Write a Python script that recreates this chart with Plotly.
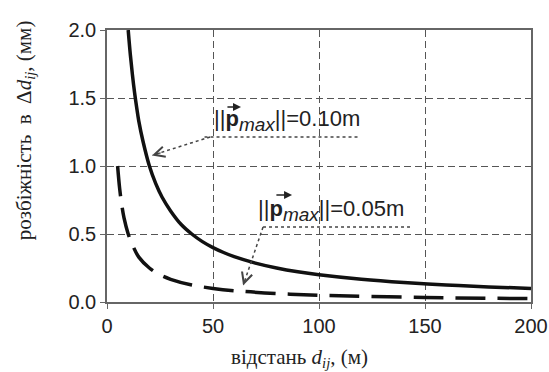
import plotly.graph_objects as go

# data
x_solid = [10, 11, 12, 13, 14, 15, 17, 20, 23, 26, 30, 35, 40, 45, 50, 55, 60, 70, 80, 90, 100, 120, 140, 160, 180, 200]
y_solid = [2.0, 1.82, 1.67, 1.54, 1.43, 1.33, 1.18, 1.0, 0.87, 0.77, 0.67, 0.57, 0.5, 0.444, 0.4, 0.364, 0.333, 0.286, 0.25, 0.222, 0.2, 0.167, 0.143, 0.125, 0.111, 0.1]
x_dash = [5, 6, 7, 8, 10, 12, 15, 20, 25, 30, 40, 50, 60, 80, 100, 150, 200]
y_dash = [1.0, 0.83, 0.71, 0.62, 0.5, 0.42, 0.33, 0.25, 0.2, 0.167, 0.125, 0.1, 0.083, 0.062, 0.05, 0.033, 0.025]
x_ticks = [0, 50, 100, 150, 200]
y_ticks = [0.0, 0.5, 1.0, 1.5, 2.0]
y_ticklabels = ["0.0", "0.5", "1.0", "1.5", "2.0"]
label_1 = "||<b>p</b><sub><i><span style='font-size:19px'>max</span></i></sub>||=0.10m"
label_2 = "||<b>p</b><sub><i><span style='font-size:19px'>max</span></i></sub>||=0.05m"

fig = go.Figure()
fig.add_trace(go.Scatter(x=x_solid, y=y_solid, mode="lines", line=dict(color="#111", width=3.5, shape="spline"), showlegend=False))
fig.add_trace(go.Scatter(x=x_dash, y=y_dash, mode="lines", line=dict(color="#111", width=3.5, shape="spline", dash="30px,12px"), showlegend=False))

dotc = "#444"
# connector 1
fig.add_shape(type="line", x0=46, y0=1.213, x1=119, y1=1.213, line=dict(color=dotc, width=1.5, dash="dot"))
fig.add_shape(type="line", x0=48.6, y0=1.213, x1=21.5, y1=1.08, line=dict(color=dotc, width=1.5, dash="dot"))
# connector 2
fig.add_shape(type="line", x0=73.6, y0=0.551, x1=144, y1=0.551, line=dict(color=dotc, width=1.5, dash="dot"))
fig.add_shape(type="line", x0=73.6, y0=0.551, x1=64.4, y1=0.13, line=dict(color=dotc, width=1.5, dash="dot"))

fig.add_annotation(x=21.2, y=1.078, ax=26, ay=1.1, axref="x", ayref="y", text="", showarrow=True,
                   arrowhead=5, arrowsize=1.6, arrowwidth=1.3, arrowcolor=dotc)
fig.add_annotation(x=64.2, y=0.122, ax=65.2, ay=0.17, axref="x", ayref="y", text="", showarrow=True,
                   arrowhead=5, arrowsize=1.6, arrowwidth=1.3, arrowcolor=dotc)

fig.add_annotation(x=49.5, y=1.331, text=label_1, showarrow=False, xanchor="left", yanchor="middle",
                   font=dict(family="Liberation Sans", size=22, color="#222"))
fig.add_annotation(x=70.3, y=0.676, text=label_2, showarrow=False, xanchor="left", yanchor="middle",
                   font=dict(family="Liberation Sans", size=22, color="#222"))
# vector arrows over p
fig.add_annotation(x=63.2, y=1.434, ax=56.1, ay=1.434, axref="x", ayref="y", text="", showarrow=True,
                   arrowhead=2, arrowsize=1, arrowwidth=1.6, arrowcolor="#222")
fig.add_annotation(x=87.3, y=0.787, ax=79.2, ay=0.787, axref="x", ayref="y", text="", showarrow=True,
                   arrowhead=2, arrowsize=1, arrowwidth=1.6, arrowcolor="#222")

# axis titles
fig.add_annotation(xref="paper", yref="paper", x=-0.193, y=0.632, textangle=-90, showarrow=False,
                   xanchor="center", yanchor="middle",
                   text="розбіжність  в  Δ<i>d</i><sub><i>ij</i></sub>, (мм)",
                   font=dict(family="Liberation Serif", size=21, color="#222"))
fig.add_annotation(xref="paper", yref="paper", x=0.455, y=-0.206, showarrow=False,
                   xanchor="center", yanchor="middle",
                   text="відстань <i>d</i><sub><i>ij</i></sub>, (м)",
                   font=dict(family="Liberation Serif", size=21, color="#222"))

axis_common = dict(showline=True, mirror=True, linecolor="#666", linewidth=1.5,
                   ticks="outside", ticklen=5, tickcolor="#666", tickwidth=1.2,
                   showgrid=True, gridcolor="#555", gridwidth=1.2, griddash="7px,4px",
                   zeroline=False, ticklabeloverflow="allow", automargin=False,
                   tickfont=dict(family="Liberation Sans", size=20, color="#222"))
fig.update_xaxes(range=[0, 200], tickvals=x_ticks, **axis_common)
fig.update_yaxes(range=[0, 2], tickvals=y_ticks, ticktext=y_ticklabels, **axis_common)

fig.update_layout(width=549, height=372, autosize=False,
                  margin=dict(l=107, r=18, t=30, b=70),
                  plot_bgcolor="white", paper_bgcolor="white")
fig.write_html("out.html", config={"displayModeBar": False},
               post_script="document.body.style.margin='0';document.body.style.overflow='hidden';")
